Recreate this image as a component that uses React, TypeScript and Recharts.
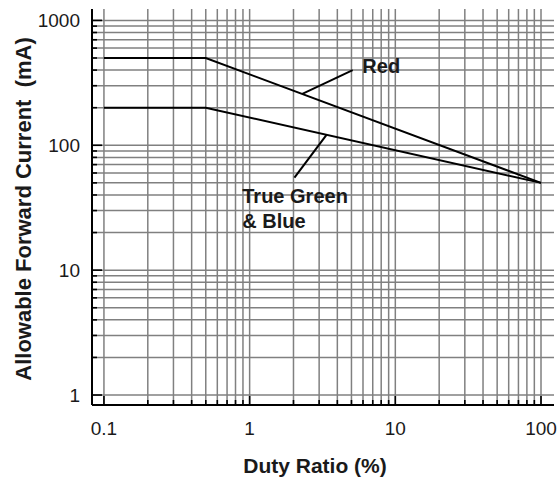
import React from "react"
import { LineChart, Line, XAxis, YAxis, ReferenceLine, ReferenceDot } from "recharts"

// duty ratio (%) vs allowable forward current (mA)
const duty = [0.1, 0.5, 100]
const redCurrent = [500, 500, 50]
const greenBlueCurrent = [200, 200, 50]

const xTicks = [0.1, 1, 10, 100]
const yTicks = [1, 10, 100, 1000]

const xGrid = [
  0.1, 0.2, 0.3, 0.4, 0.5, 0.6, 0.7, 0.8, 0.9,
  1, 2, 3, 4, 5, 6, 7, 8, 9,
  10, 20, 30, 40, 50, 60, 70, 80, 90,
  100,
]
const yGrid = [
  1, 2, 3, 4, 5, 6, 7, 8, 9,
  10, 20, 30, 40, 50, 60, 70, 80, 90,
  100, 200, 300, 400, 500, 600, 700, 800, 900,
  1000,
]

// leader lines for the labels
const redLeader = [{ x: 2.3, y: 258 }, { x: 5.1, y: 400 }]
const gbLeader = [{ x: 3.37, y: 121 }, { x: 2.03, y: 55 }]

const data = duty.map((d, i) => ({
  duty: d,
  red: redCurrent[i],
  gb: greenBlueCurrent[i],
}))

const xDomain = [0.0828, 122.8]
const yDomain = [0.832, 1234]

const GRID = "#808080"
const INK = "#1a1a1a"
const FONT = "'Liberation Sans', Arial, Helvetica, sans-serif"

const isMajor = (v: number) => [0.1, 1, 10, 100, 1000].includes(v)

function BottomTick(props: any) {
  const { x, y, payload } = props
  const v = payload.value
  const len = isMajor(v) ? 9 : 5
  return (
    <g>
      <line x1={x} y1={y} x2={x} y2={y - len} stroke="#000" strokeWidth={1.6} />
      {xTicks.includes(v) && (
        <text x={x} y={y + 30} textAnchor="middle" fontSize={19} fill={INK} fontFamily={FONT}>
          {v}
        </text>
      )}
    </g>
  )
}

function TopTick(props: any) {
  const { x, y, payload } = props
  const len = isMajor(payload.value) ? 9 : 5
  return <line x1={x} y1={y} x2={x} y2={y + len} stroke="#000" strokeWidth={1.6} />
}

function LeftTick(props: any) {
  const { x, y, payload } = props
  const v = payload.value
  const len = isMajor(v) ? 10 : 5
  return (
    <g>
      <line x1={x} y1={y} x2={x + len} y2={y} stroke="#000" strokeWidth={1.6} />
      {yTicks.includes(v) && (
        <text x={x - 12} y={y + 7} textAnchor="end" fontSize={19} fill={INK} fontFamily={FONT}>
          {v}
        </text>
      )}
    </g>
  )
}

function RightTick(props: any) {
  const { x, y, payload } = props
  const len = isMajor(payload.value) ? 9 : 5
  return <line x1={x} y1={y} x2={x - len} y2={y} stroke="#000" strokeWidth={1.6} />
}

export default function App() {
  return (
    <div style={{ position: "absolute", left: 0, top: 0 }}>
      <LineChart
        width={558}
        height={483}
        data={data}
        margin={{ top: 9, right: 4, bottom: 0, left: 0 }}
        style={{ fontFamily: FONT }}
      >
        {xGrid.map((v) => (
          <ReferenceLine key={"x" + v} x={v} stroke={GRID} strokeWidth={1.5} />
        ))}
        {yGrid.map((v) => (
          <ReferenceLine key={"y" + v} y={v} stroke={GRID} strokeWidth={1.5} />
        ))}

        <XAxis
          dataKey="duty"
          type="number"
          scale="log"
          domain={xDomain}
          allowDataOverflow
          ticks={xGrid}
          interval={0}
          tickSize={0}
          tickMargin={0}
          tickLine={false}
          tick={<BottomTick />}
          height={78}
          axisLine={{ stroke: "#000", strokeWidth: 2 }}
          label={{
            value: "Duty Ratio (%)",
            position: "insideBottom",
            offset: 10,
            dx: -8,
            fontSize: 21,
            fontWeight: "bold",
            fill: INK,
          }}
        />
        <XAxis
          xAxisId="top"
          orientation="top"
          dataKey="duty"
          type="number"
          scale="log"
          domain={xDomain}
          allowDataOverflow
          ticks={xGrid}
          interval={0}
          tickSize={0}
          tickMargin={0}
          tickLine={false}
          tick={<TopTick />}
          height={0}
          axisLine={{ stroke: "#000", strokeWidth: 2 }}
        />
        <YAxis
          type="number"
          scale="log"
          domain={yDomain}
          allowDataOverflow
          ticks={yGrid}
          interval={0}
          tickSize={0}
          tickMargin={0}
          tickLine={false}
          tick={<LeftTick />}
          width={92}
          axisLine={{ stroke: "#000", strokeWidth: 2 }}
          label={{
            value: "Allowable Forward Current\u00a0 (mA)",
            angle: -90,
            position: "center",
            dx: -23,
            dy: 2,
            fontSize: 22,
            fontWeight: "bold",
            fill: INK,
          }}
        />
        <YAxis
          yAxisId="right"
          orientation="right"
          type="number"
          scale="log"
          domain={yDomain}
          allowDataOverflow
          ticks={yGrid}
          interval={0}
          tickSize={0}
          tickMargin={0}
          tickLine={false}
          tick={<RightTick />}
          width={0}
          axisLine={{ stroke: "#000", strokeWidth: 2 }}
        />

        <Line
          type="linear"
          dataKey="red"
          stroke="#000"
          strokeWidth={2}
          dot={false}
          isAnimationActive={false}
        />
        <Line
          type="linear"
          dataKey="gb"
          stroke="#000"
          strokeWidth={2}
          dot={false}
          isAnimationActive={false}
        />

        <ReferenceLine segment={redLeader} stroke="#000" strokeWidth={2} />
        <ReferenceLine segment={gbLeader} stroke="#000" strokeWidth={2} />

        <ReferenceDot
          x={5.94}
          y={381}
          r={0}
          shape={(p: any) => (
            <text x={p.cx} y={p.cy} fontSize={20} fontWeight="bold" fill={INK} fontFamily={FONT}>
              Red
            </text>
          )}
        />
        <ReferenceDot
          x={0.89}
          y={34.6}
          r={0}
          shape={(p: any) => (
            <text x={p.cx} y={p.cy} fontSize={20} fontWeight="bold" fill={INK} fontFamily={FONT}>
              <tspan x={p.cx}>True Green</tspan>
              <tspan x={p.cx} dy={25}>& Blue</tspan>
            </text>
          )}
        />
      </LineChart>
    </div>
  )
}
